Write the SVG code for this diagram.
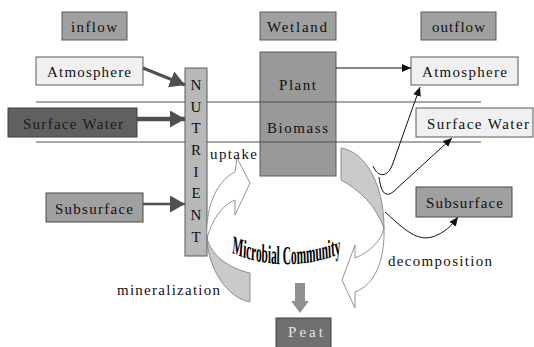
<svg xmlns="http://www.w3.org/2000/svg" width="534" height="347" viewBox="0 0 534 347">
<style>
text{font-family:"Liberation Serif","Times New Roman",serif;font-size:15px;fill:#111}
.hdr{fill:#a0a0a0;stroke:#5a5a5a;stroke-width:1}
.light{fill:#f0f0f0;stroke:#5a5a5a;stroke-width:1}
.mid{fill:#a0a0a0;stroke:#4a4a4a;stroke-width:1}
.dark{fill:#606060;stroke:#404040;stroke-width:1}
.hl{stroke:#505050;stroke-width:1;fill:none}
.fat{stroke:#505050;fill:none}
.thin{stroke:#111;fill:none;stroke-width:1}
.band{fill:#cacaca;stroke:#777;stroke-width:0.8}
.blank{fill:#fff;stroke:#777;stroke-width:0.8}
</style>
<defs>
<marker id="gh" markerUnits="userSpaceOnUse" markerWidth="16" markerHeight="18" refX="15" refY="8.5" orient="auto"><path d="M0,0 L15,8.5 L0,17 Z" fill="#505050"/></marker>
<marker id="bh" markerUnits="userSpaceOnUse" markerWidth="10" markerHeight="8" refX="9" refY="4" orient="auto"><path d="M0,0 L9,4 L0,8 Z" fill="#111"/></marker>
</defs>
<rect width="534" height="347" fill="#fff"/>

<g id="inflow"><rect class="hdr" x="62" y="12" width="65" height="28"/><text x="71" y="32" textLength="46" lengthAdjust="spacing">inflow</text></g>
<g id="wetland"><rect class="hdr" x="260" y="12" width="76" height="28"/><text x="267" y="32" textLength="60" lengthAdjust="spacing">Wetland</text></g>
<g id="outflow"><rect class="hdr" x="421" y="12" width="75" height="28"/><text x="432" y="32" textLength="53" lengthAdjust="spacing">outflow</text></g>

<g id="plant-biomass"><rect fill="#999" stroke="#5a5a5a" x="260" y="52" width="76" height="124"/><text x="279" y="90" textLength="37" lengthAdjust="spacing">Plant</text><text x="267" y="133" textLength="61" lengthAdjust="spacing">Biomass</text></g>

<g id="layers"><line class="hl" x1="36" y1="102" x2="481" y2="102"/><line class="hl" x1="36" y1="142" x2="481" y2="142"/></g>

<g id="atm-in"><rect class="light" x="36" y="57" width="107" height="28"/><text x="47" y="77" textLength="84" lengthAdjust="spacing">Atmosphere</text></g>
<g id="sw-in"><rect class="dark" x="8" y="108" width="129" height="29"/><text x="23" y="129" textLength="100" lengthAdjust="spacing" style="fill:#1a1a1a">Surface Water</text></g>
<g id="sub-in"><rect class="mid" x="46" y="193" width="97" height="29"/><text x="55" y="214" textLength="78" lengthAdjust="spacing">Subsurface</text></g>

<g id="nutrient"><rect fill="#b8b8b8" stroke="#5a5a5a" x="185" y="68" width="22" height="188"/>
<g text-anchor="middle"><text x="196" y="90">N</text><text x="196" y="112">U</text><text x="196" y="133">T</text><text x="196" y="155">R</text><text x="196" y="177">I</text><text x="196" y="198">E</text><text x="196" y="220">N</text><text x="196" y="242">T</text></g></g>

<g id="atm-out"><rect class="light" x="411" y="57" width="107" height="28"/><text x="422" y="77" textLength="85" lengthAdjust="spacing">Atmosphere</text></g>
<g id="sw-out"><rect class="light" x="416" y="108" width="117" height="29"/><text x="427" y="129" textLength="102" lengthAdjust="spacing">Surface Water</text></g>
<g id="sub-out"><rect class="mid" x="416" y="187" width="96" height="30"/><text x="426" y="208" textLength="77" lengthAdjust="spacing">Subsurface</text></g>

<g id="peat"><rect fill="#707070" stroke="#404040" x="276" y="318" width="55" height="30"/><text x="288" y="337" textLength="35" lengthAdjust="spacing" style="fill:#e4e4e4">Peat</text></g>

<g id="uptake-arrow"><path class="band" d="M250,273 C228,268 211,255 207,238 C208,270 228,298 250,302 Z"/><path class="blank" d="M207,238 C205,205 218,180 235,172 L237,158 L250,183 L235,215 L235,200 C222,205 212,220 207,238 Z"/></g>
<g id="decomp-arrow"><path class="band" d="M341,148 C366,152 384,185 384,228 C376,206 360,190 341,180 Z"/><path class="blank" d="M384,228 C385,260 375,285 355,292 L355,308 L342,280 L355,245 L355,258 C370,252 382,240 384,228 Z"/></g>

<g id="connectors">
<line class="fat" stroke-width="3" x1="143" y1="68" x2="185" y2="85" marker-end="url(#gh)"/>
<line class="fat" stroke-width="4.5" x1="137" y1="119" x2="185" y2="119" marker-end="url(#gh)"/>
<line class="fat" stroke-width="2.5" x1="143" y1="204" x2="185" y2="204" marker-end="url(#gh)"/>
<line class="thin" x1="336" y1="68" x2="411" y2="68" marker-end="url(#bh)"/>
<path class="thin" d="M373,166 C378,178 388,178 393,163 L420,87" marker-end="url(#bh)"/>
<path class="thin" stroke-width="2.5" d="M379,177 C381,191 384,198 393,192 L452,138" marker-end="url(#bh)"/>
<path class="thin" d="M385,212 C400,225 415,242 432,237 C445,233 452,225 458,217" marker-end="url(#bh)"/>
<path d="M295,283 H305 V301 H309 L300,313 L291,301 H295 Z" fill="#909090"/>
</g>

<g id="labels">
<text x="210" y="159" textLength="47" lengthAdjust="spacing">uptake</text>
<text x="117" y="295" textLength="103" lengthAdjust="spacing">mineralization</text>
<text x="388" y="266" textLength="104" lengthAdjust="spacing">decomposition</text>
<g transform="translate(287,0) scale(0.44,1) translate(-287,0)">
<path id="arc" d="M162,253 Q287,277 432,250" fill="none"/>
<text style="font-size:26px;font-weight:bold;fill:#000"><textPath href="#arc">Microbial Community</textPath></text>
</g>
</g>
</svg>
